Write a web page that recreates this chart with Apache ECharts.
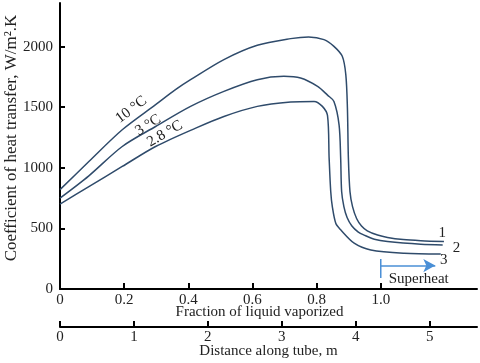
<!DOCTYPE html>
<html>
<head>
<meta charset="utf-8">
<script src="https://cdn.jsdelivr.net/npm/echarts@6/dist/echarts.min.js"></script>
<style>
    html, body { margin: 0; padding: 0; background: #fff; }
    #chart { width: 480px; height: 363px; }
</style>
</head>
<body>
<div id="chart"></div>
<script>
// 曲线 1: 10 °C
const frac1 = [0, 0.09, 0.194, 0.298, 0.36, 0.407, 0.511, 0.615, 0.719, 0.775, 0.823, 0.854, 0.88, 0.891, 0.896, 0.899, 0.904, 0.912, 0.925, 0.94, 0.958, 0.99, 1.021, 1.07, 1.125, 1.197];
const coef1 = [820, 1052, 1314, 1521, 1645, 1727, 1893, 2011, 2066, 2080, 2058, 2002, 1920, 1769, 1496, 1083, 804, 680, 580, 520, 480, 445, 425, 408, 399, 392];

// 曲线 2: 3 °C
const frac2 = [0, 0.09, 0.194, 0.298, 0.407, 0.511, 0.615, 0.698, 0.75, 0.803, 0.834, 0.854, 0.87, 0.875, 0.878, 0.885, 0.895, 0.91, 0.93, 0.948, 0.98, 1.021, 1.125, 1.193];
const coef2 = [750, 934, 1176, 1341, 1507, 1631, 1727, 1755, 1741, 1672, 1600, 1548, 1355, 1080, 804, 680, 590, 520, 470, 445, 410, 391, 369, 364];

// 曲线 3: 2.8 °C
const frac3 = [0, 0.09, 0.194, 0.298, 0.423, 0.511, 0.615, 0.719, 0.792, 0.818, 0.834, 0.839, 0.844, 0.849, 0.86, 0.875, 0.917, 0.969, 1.073, 1.187];
const coef3 = [700, 845, 1011, 1176, 1328, 1424, 1507, 1543, 1548, 1507, 1430, 1080, 804, 680, 540, 488, 378, 322, 295, 289];

// 曲线标注
const curveLabels = ['10 °C', '3 °C', '2.8 °C'];
const curveLabelX = [0.222, 0.275, 0.327];
const curveLabelY = [1480, 1352, 1282];
const curveLabelRotate = [37, 32, 30];
const endLabels = ['1', '2', '3'];
const endLabelX = [1.192, 1.236, 1.196];
const endLabelY = [465, 339, 240];

// Superheat 标记
const superheatX = [1.0, 1.17];
const superheatArrowY = 193;
const superheatTickY = [91, 248];
const superheatTextY = 83;

// 坐标轴刻度
const fracTicks = [0.2, 0.4, 0.6, 0.8, 1.0];
const fracLabels = [0, 0.2, 0.4, 0.6, 0.8, 1.0];
const coefTicks = [500, 1000, 1500, 2000];
const coefLabels = [0, 500, 1000, 1500, 2000];
const distTicks = [0, 1, 2, 3, 4, 5];

const FONT = 'Liberation Serif';
const LINE = '#2f4b6b';
const BLUE = '#4a8fd6';

const zip = (xs, ys) => xs.map((x, i) => [x, ys[i]]);

const chart = echarts.init(document.getElementById('chart'));

function curveSeries(xs, ys, i) {
    return {
        type: 'line',
        data: zip(xs, ys),
        symbol: 'none',
        smooth: 0.3,
        lineStyle: { color: LINE, width: 1.5 },
        silent: true,
        markPoint: {
            symbolSize: 0,
            silent: true,
            data: [
                {
                    coord: [curveLabelX[i], curveLabelY[i]],
                    label: {
                        show: true,
                        position: 'inside',
                        formatter: curveLabels[i],
                        rotate: curveLabelRotate[i],
                        fontFamily: FONT,
                        fontSize: 15,
                        color: '#222'
                    }
                },
                {
                    coord: [endLabelX[i], endLabelY[i]],
                    label: {
                        show: true,
                        position: 'inside',
                        formatter: endLabels[i],
                        fontFamily: FONT,
                        fontSize: 15,
                        color: '#222'
                    }
                }
            ]
        }
    };
}

const axisLine = { lineStyle: { color: '#000', width: 2 } };
const tickStyle = { lineStyle: { color: '#000', width: 2 } };
const labelFont = { fontFamily: FONT, fontSize: 15, color: '#222' };

const option = {
    animation: false,
    grid: { left: 60, right: 3, top: 3, bottom: 74, outerBoundsMode: 'none' },
    xAxis: [
        {
            type: 'value',
            min: 0,
            max: 1.3,
            position: 'bottom',
            splitLine: { show: false },
            axisLine: axisLine,
            axisTick: { inside: true, length: 6, customValues: fracTicks, ...tickStyle },
            axisLabel: {
                customValues: fracLabels,
                margin: 4,
                formatter: v => (v === 0 ? '0' : v.toFixed(1)),
                ...labelFont
            },
            name: 'Fraction of liquid vaporized',
            nameLocation: 'middle',
            nameGap: 16,
            nameMoveOverlap: false,
            nameTextStyle: { ...labelFont, padding: [0, 18, 0, 0] }
        },
        {
            type: 'value',
            min: 0,
            max: 5.64,
            position: 'bottom',
            offset: 38,
            splitLine: { show: false },
            axisLine: axisLine,
            axisTick: { inside: true, length: 6, customValues: distTicks, ...tickStyle },
            axisLabel: { customValues: distTicks, margin: 3, formatter: v => String(v), ...labelFont },
            name: 'Distance along tube, m',
            nameLocation: 'middle',
            nameGap: 17,
            nameMoveOverlap: false,
            nameTextStyle: { ...labelFont }
        }
    ],
    yAxis: {
        type: 'value',
        min: 0,
        max: 2360,
        splitLine: { show: false },
        axisLine: axisLine,
        axisTick: { inside: true, length: 5, customValues: coefTicks, ...tickStyle },
        axisLabel: { customValues: coefLabels, margin: 7, formatter: v => String(v), ...labelFont },
        name: 'Coefficient of heat transfer, W/m\u00B2.K',
        nameLocation: 'middle',
        nameGap: 40,
        nameMoveOverlap: false,
        nameTextStyle: { ...labelFont, fontSize: 17, padding: [0, 0, 0, 16] }
    },
    series: [
        curveSeries(frac1, coef1, 0),
        curveSeries(frac2, coef2, 1),
        curveSeries(frac3, coef3, 2),
        {
            // Superheat 起点竖线 + 箭头
            type: 'line',
            data: zip([superheatX[0], superheatX[0]], superheatTickY),
            symbol: 'none',
            lineStyle: { color: BLUE, width: 1.5 },
            silent: true,
            markLine: {
                silent: true,
                symbol: ['none', 'arrow'],
                symbolSize: [10, 12],
                lineStyle: { color: BLUE, width: 1.5, type: 'solid' },
                label: { show: false },
                data: [[
                    { coord: [superheatX[0], superheatArrowY] },
                    { coord: [superheatX[1], superheatArrowY] }
                ]]
            },
            markPoint: {
                symbolSize: 0,
                silent: true,
                data: [{
                    coord: [superheatX[0], superheatTextY],
                    label: {
                        show: true,
                        position: 'right',
                        distance: 8,
                        formatter: 'Superheat',
                        ...labelFont
                    }
                }]
            }
        }
    ]
};

chart.setOption(option);
</script>
</body>
</html>
